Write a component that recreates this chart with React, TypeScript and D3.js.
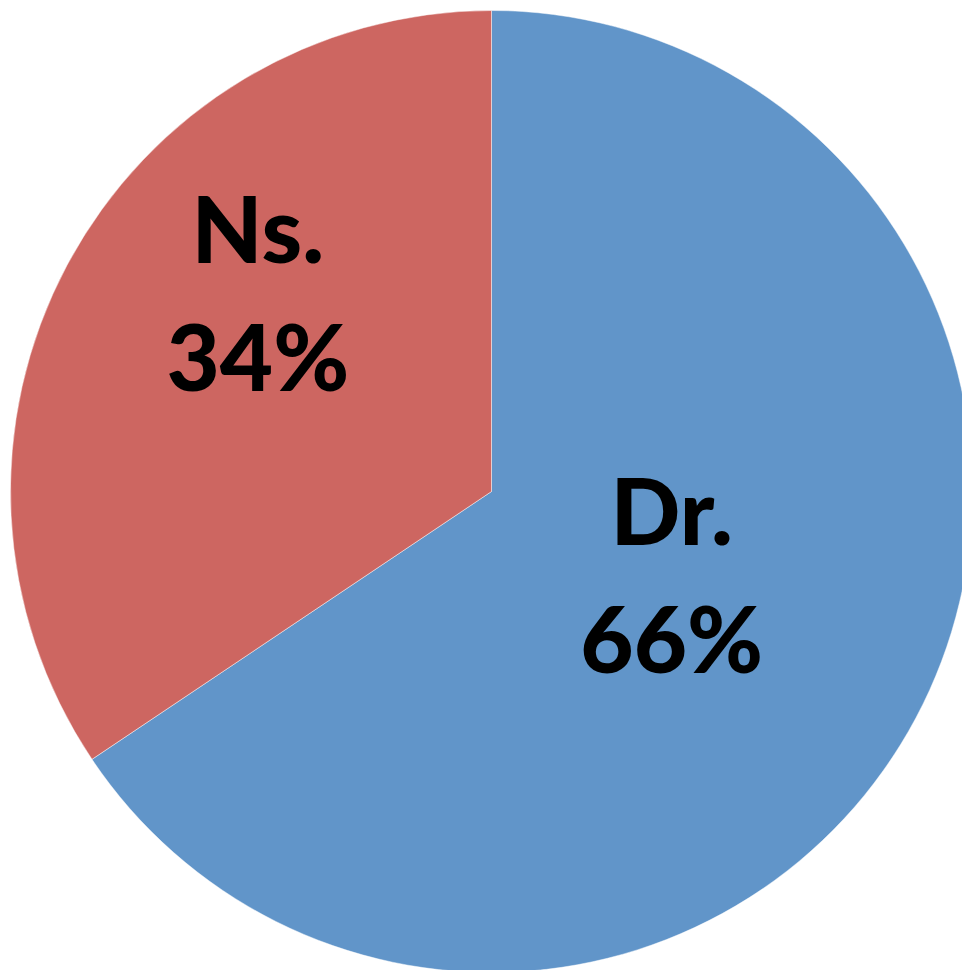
import * as d3 from 'd3';

const categories = ['Dr.', 'Ns.'];
const values = [65.6, 34.4];
const percentLabels = ['66%', '34%'];
const colors = ['#6195C9', '#CD6661'];

// label placement: fraction of radius and angle shift (degrees) from slice mid-angle
const labelRadius = [0.415, 0.635];
const labelShift = [-2.6, 12];

export default function App() {
  const width = 962;
  const height = 970;
  const cx = 491.5;
  const cy = 491.5;
  const r = 481;

  const pie = d3
    .pie<number>()
    .sort(null)
    .value(d => d);
  const arcs = pie(values);
  const arc = d3.arc<d3.PieArcDatum<number>>().innerRadius(0).outerRadius(r);

  return (
    <svg
      width={width}
      height={height}
      style={{ position: 'fixed', left: 0, top: 0, background: '#fff' }}
    >
      <g transform={`translate(${cx},${cy})`}>
        {arcs.map((a, i) => (
          <path
            key={categories[i]}
            d={arc(a) || ''}
            fill={colors[i]}
            stroke="#ffffff"
            strokeOpacity={0.45}
            strokeWidth={1}
          />
        ))}
        {arcs.map((a, i) => {
          const mid = (a.startAngle + a.endAngle) / 2 + (labelShift[i] * Math.PI) / 180;
          const lr = r * labelRadius[i];
          const x = Math.sin(mid) * lr;
          const y = -Math.cos(mid) * lr;
          return (
            <text
              key={'l' + i}
              x={x}
              y={y}
              textAnchor="middle"
              fontFamily="Lato, 'Open Sans', sans-serif"
              fontWeight={900}
              fontSize={92}
              fill="#000"
            >
              <tspan x={x} dy={-32}>
                {categories[i]}
              </tspan>
              <tspan x={x} dy={128}>
                {percentLabels[i]}
              </tspan>
            </text>
          );
        })}
      </g>
    </svg>
  );
}
